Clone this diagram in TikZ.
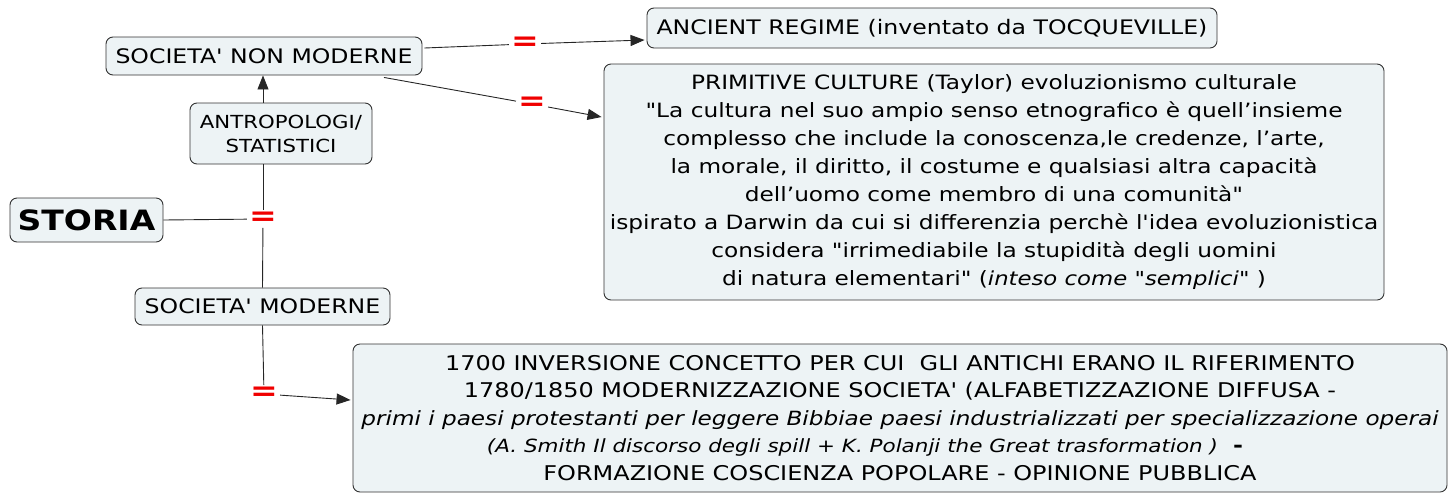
\documentclass[tikz,border=0pt]{standalone}
\usepackage{fontspec}
\newfontfamily\df{DejaVu Sans}[FakeStretch=1.18]
\usetikzlibrary{arrows.meta,calc}
\definecolor{boxfill}{RGB}{237,243,245}
\definecolor{boxline}{RGB}{50,50,50}
\definecolor{eqred}{RGB}{240,0,0}
\tikzset{
  cbox/.style={draw=boxline, fill=boxfill, rounded corners=7pt, line width=0.9pt, align=center, inner sep=0pt},
  eqlab/.style={text=eqred, font=\fontsize{28}{28}\selectfont\bfseries, inner sep=2pt},
  link/.style={draw=black!85, line width=0.9pt},
  arr/.style={link, -{Triangle[length=14pt,width=11pt]}},
}
\newcommand{\itl}[2]{{\fontsize{#1}{27.5}\selectfont\itshape #2}}
\begin{document}
\begin{tikzpicture}[x=1pt,y=-1pt]
\df
\useasboundingbox (0,0) rectangle (1454,496);
\def\fa{\fontsize{20}{25}\selectfont}
\node[cbox, minimum width=316, minimum height=38, font=\fa] (snm) at (264,56) {SOCIETA' NON MODERNE};
\node[cbox, minimum width=182, minimum height=61, font=\fontsize{18}{24}\selectfont] (ant) at (281,133.5) {ANTROPOLOGI/\\STATISTICI};
\node[cbox, minimum width=153, minimum height=44, font=\fontsize{28}{28}\selectfont\bfseries] (storia) at (86.5,220) {STORIA};
\node[cbox, minimum width=255, minimum height=37, font=\fa] (sm) at (262.5,306.5) {SOCIETA' MODERNE};
\node[cbox, minimum width=570, minimum height=40, font=\fa] (ar) at (932,28) {ANCIENT REGIME (inventato da TOCQUEVILLE)};
\node[cbox, minimum width=780, minimum height=236, font=\fontsize{19.7}{28}\selectfont] (pc) at (994,182) {PRIMITIVE CULTURE (Taylor) evoluzionismo culturale\\
"La cultura nel suo ampio senso etnografico è quell’insieme\\
complesso che include la conoscenza,le credenze, l’arte,\\
la morale, il diritto, il costume e qualsiasi altra capacità\\
dell’uomo come membro di una comunità"\\
ispirato a Darwin da cui si differenzia perchè l'idea evoluzionistica\\
considera "irrimediabile la stupidità degli uomini\\
di natura elementari" ({\fontsize{19.3}{28}\selectfont\itshape inteso come "semplici"} )};
\node[cbox, minimum width=1094, minimum height=148, font=\fontsize{20.3}{27.5}\selectfont] (mod) at (900,418) {1700 INVERSIONE CONCETTO PER CUI\ \ GLI ANTICHI ERANO IL RIFERIMENTO\\
1780/1850 MODERNIZZAZIONE SOCIETA' (ALFABETIZZAZIONE DIFFUSA -\\
\itl{19.6}{primi i paesi protestanti per leggere Bibbiae paesi industrializzati per specializzazione operai}\\
\itl{18.2}{(A. Smith Il discorso degli spill + K. Polanji the Great trasformation )}\ \ \textbf{-}\rule{70pt}{0pt}\\
FORMAZIONE COSCIENZA POPOLARE - OPINIONE PUBBLICA};
% equal-sign labels
\node[eqlab] (eq1) at (263,219) {=};
\node[eqlab] (eq2) at (525,44) {=};
\node[eqlab] (eq3) at (532,104) {=};
\node[eqlab] (eq4) at (264,394) {=};
% anchor points
\coordinate (snmR) at ($(snm.east)+(2,-8)$);
\coordinate (snmB) at ($(snm.south)+(120,2)$);
\coordinate (arL) at ($(ar.west)+(-2,12)$);
\coordinate (pcL) at ($(pc.west)+(-2,-65)$);
\coordinate (modL) at ($(mod.west)+(-2,-18)$);
\coordinate (antB) at (eq1 |- ant.south);
\coordinate (antT) at (eq1 |- ant.north);
\coordinate (snmBv) at (eq1 |- snm.south);
% connectors
\draw[link] (storia.east) -- (eq1);
\draw[link] (eq1) -- (antB);
\draw[link] (eq1) -- (sm.north);
\draw[arr] (antT) -- (snmBv);
\draw[link] (snmR) -- (eq2);
\draw[arr] (eq2) -- (arL);
\draw[link] (snmB) -- (eq3);
\draw[arr] (eq3) -- (pcL);
\draw[link] (sm.south) -- (eq4);
\draw[arr] (eq4) -- (modL);
\end{tikzpicture}
\end{document}
